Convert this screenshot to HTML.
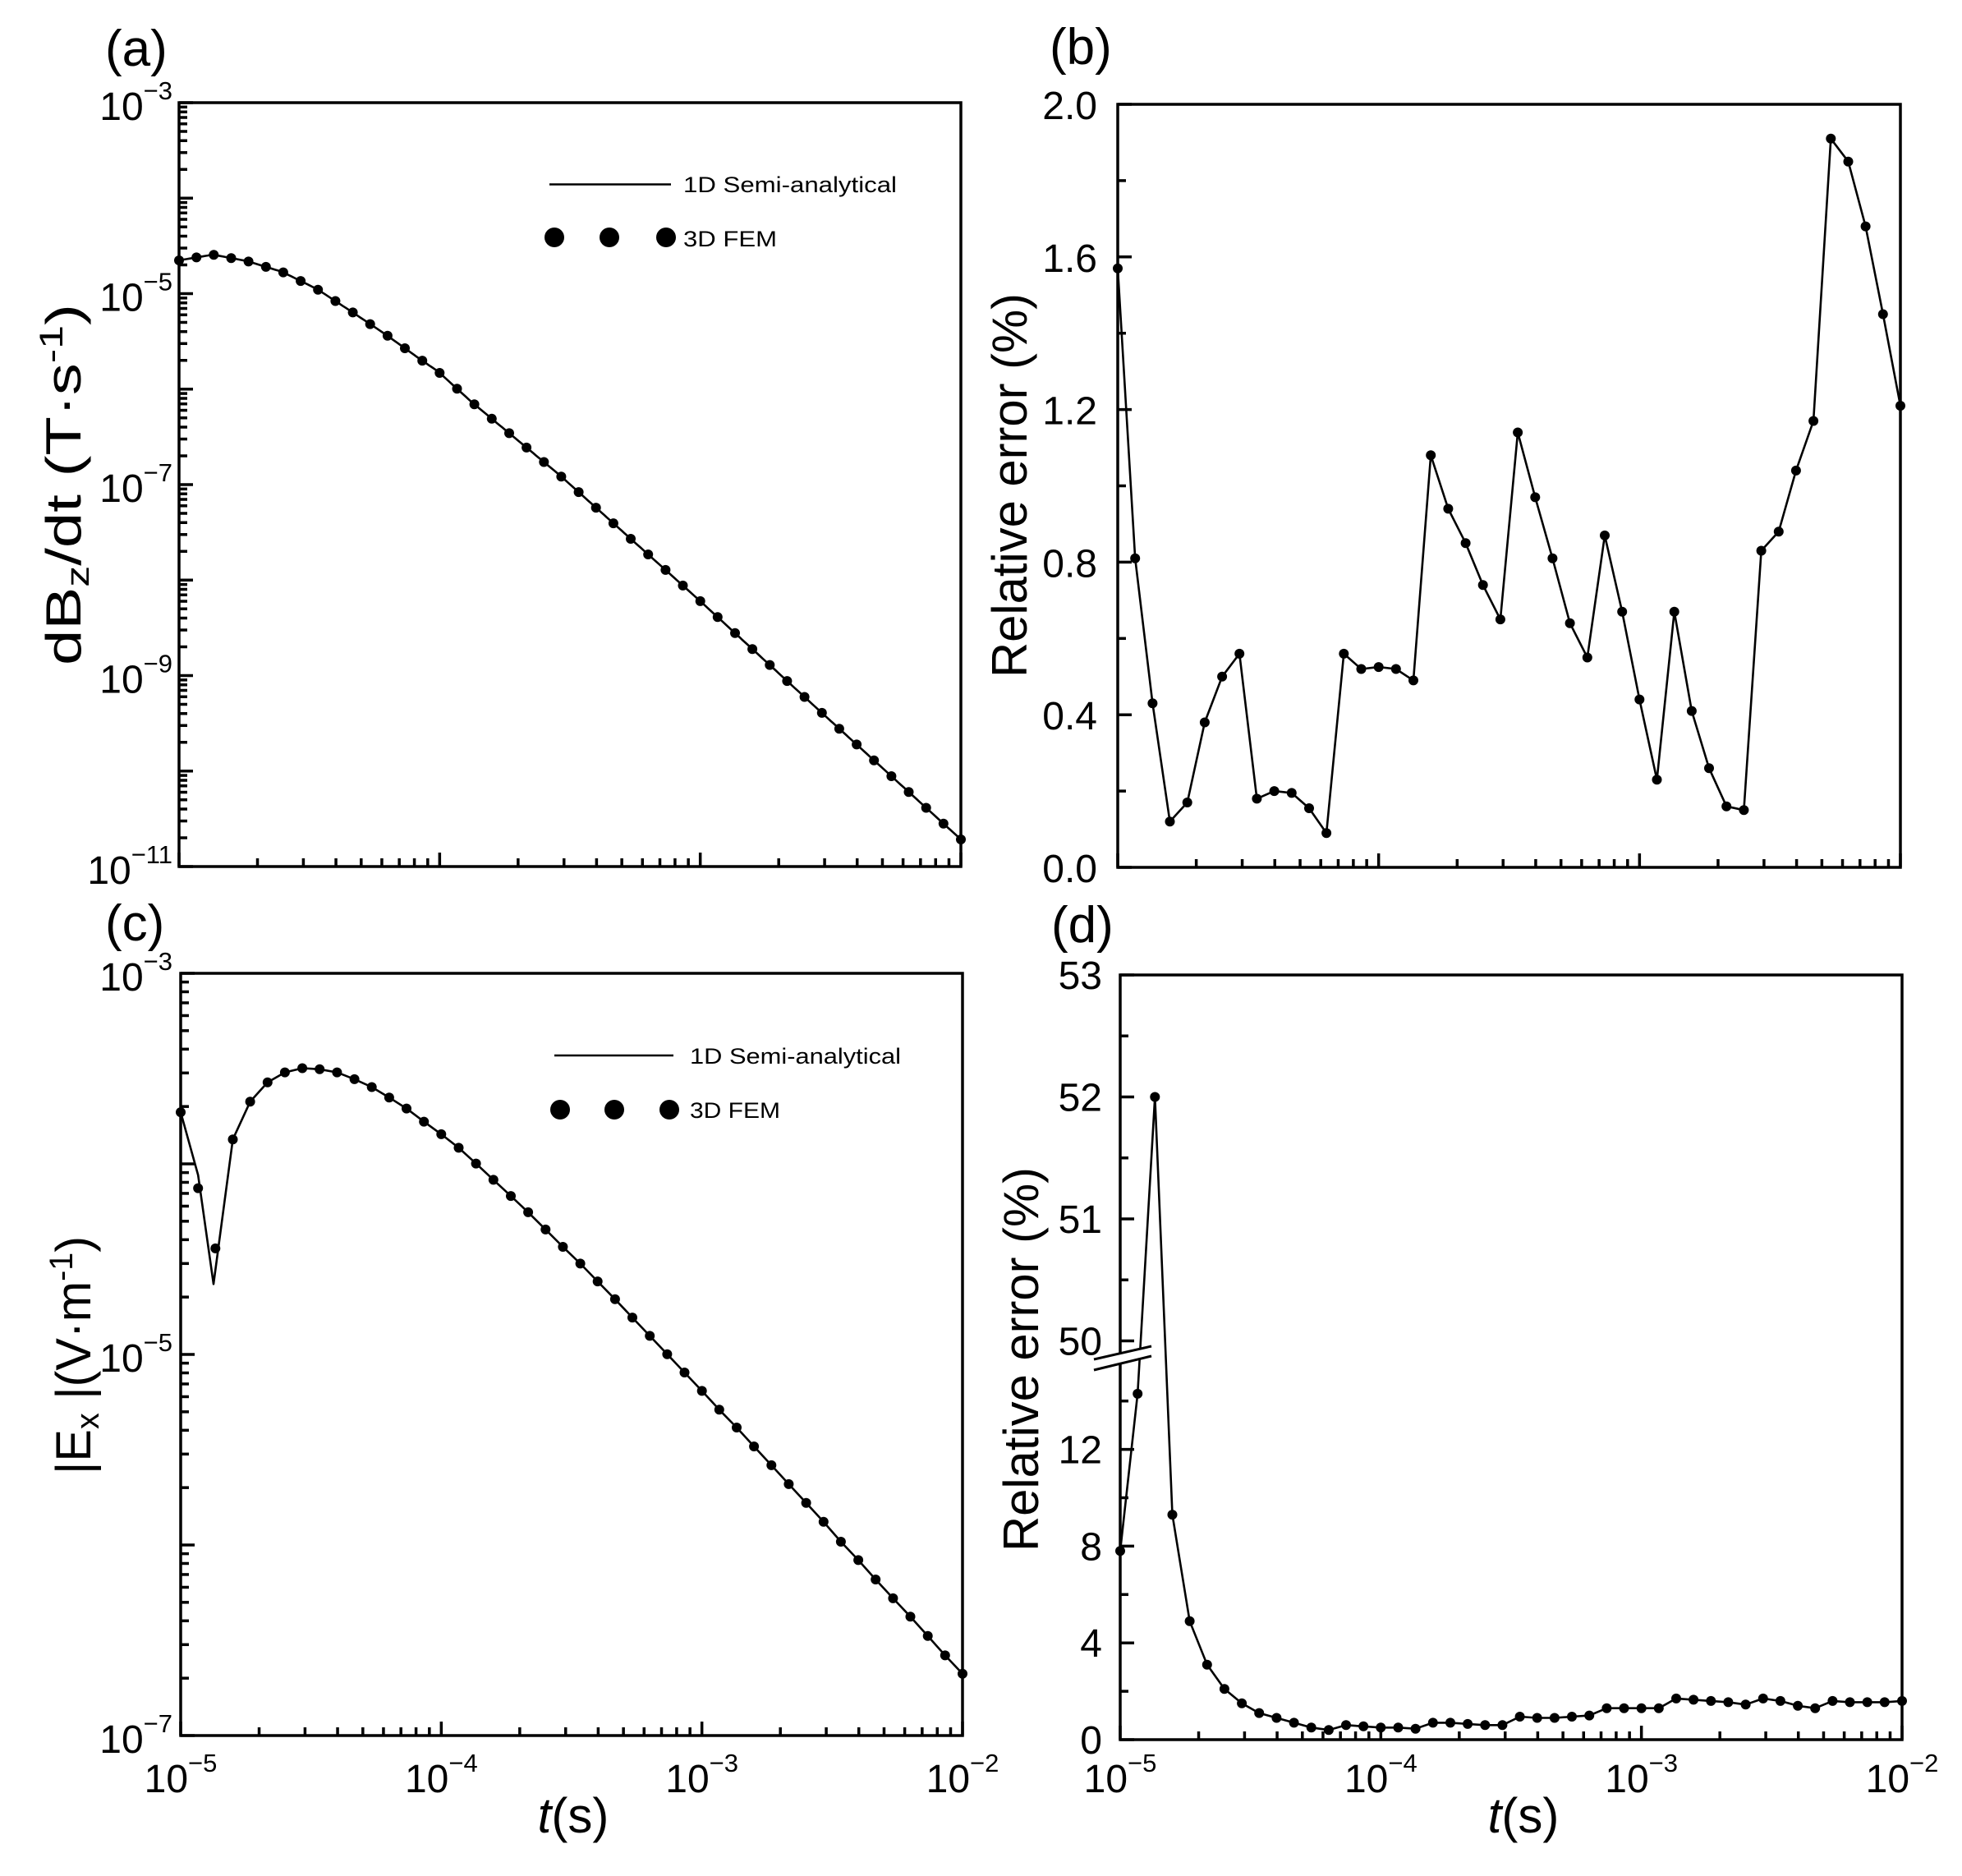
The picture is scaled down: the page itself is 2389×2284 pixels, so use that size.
<!DOCTYPE html>
<html><head><meta charset="utf-8"><style>html,body{margin:0;padding:0;background:#fff}svg{display:block}</style></head>
<body>
<svg id="s" xmlns="http://www.w3.org/2000/svg" width="2389" height="2284" viewBox="0 0 2389 2284" font-family="'Liberation Sans', Arial, sans-serif">
<rect width="2389" height="2284" fill="#fff"/>
<g id="g"></g>
</svg>
<script>
var S='';
function L(x1,y1,x2,y2,w){S+='<line x1="'+x1+'" y1="'+y1+'" x2="'+x2+'" y2="'+y2+'" stroke="#000" stroke-width="'+(w||3.5)+'"/>';}
function T(x,y,t,sz,anc,extra){S+='<text x="'+x+'" y="'+y+'" font-size="'+sz+'" text-anchor="'+(anc||'start')+'" '+(extra||'')+'>'+t+'</text>';}
function pw(x,y,e,anc){
  T(x,y,'10<tspan font-size="31" dy="-25">−'+e+'</tspan>',48,anc);
}
function poly(pts,w){S+='<polyline fill="none" stroke="#000" stroke-width="'+(w||2.6)+'" stroke-linejoin="round" points="'+pts.map(function(p){return p[0].toFixed(1)+','+p[1].toFixed(1)}).join(' ')+'"/>';}
function dots(pts){pts.forEach(function(p){S+='<circle cx="'+p[0].toFixed(1)+'" cy="'+p[1].toFixed(1)+'" r="6"/>';});}
function box(x0,y0,x1,y1){S+='<rect x="'+x0+'" y="'+y0+'" width="'+(x1-x0)+'" height="'+(y1-y0)+'" fill="none" stroke="#000" stroke-width="3.5"/>';}
function xlogticks(x0,x1,y1){var d=(x1-x0)/3;for(var k=0;k<3;k++){for(var m=1;m<=9;m++){var x=x0+d*(k+Math.log10(m));L(x,y1,x,y1-(m==1?17:10));}}L(x1,y1,x1,y1-17);}
function ylogticks(x0,y0,y1,n){var d=(y1-y0)/n;for(var k=0;k<n;k++){for(var m=1;m<=9;m++){var y=y1-d*(k+Math.log10(m));L(x0,y,x0+(m==1?17:10),y);}}L(x0,y0,x0+17,y0);}
function interp(nodes,u){for(var i=0;i<nodes.length-1;i++){if(u<=nodes[i+1][0]){var t=(u-nodes[i][0])/(nodes[i+1][0]-nodes[i][0]);return nodes[i][1]+t*(nodes[i+1][1]-nodes[i][1]);}}return nodes[nodes.length-1][1];}

// ===== Panel a =====
var ax0=218,ax1=1170,ay0=125,ay1=1055;
box(ax0,ay0,ax1,ay1);xlogticks(ax0,ax1,ay1);ylogticks(ax0,ay0,ay1,8);
var dy=(ay1-ay0)/8;
[3,5,7,9,11].forEach(function(e,i){pw(210,ay0+dy*2*i+21,e,'end');});
var na=[[-5,317],[-4.87,310],[-4.737,318],[-4.604,331],[-4.47,352],[-4.34,379],[-4.208,407],[-4.072,438],[-4.007,452],[-3.879,489],[-3.541,578],[-3.01,729],[-2.54,866],[-2,1022]];
var pa=[],la=[];
for(var u=-5;u<=-2.0001;u+=0.01){la.push([ax0+(u+5)*(ax1-ax0)/3,interp(na,u)]);}
la.push([ax1,interp(na,-2)]);
for(var i=0;i<46;i++){var u=-5+i/15;pa.push([ax0+i*(ax1-ax0)/45,interp(na,u)]);}
poly(la);dots(pa);
L(669,224.5,817,224.5,2.6);
T(832,234,'1D Semi-analytical',27,'start','textLength="260" lengthAdjust="spacingAndGlyphs"');
S+='<circle cx="675" cy="289" r="12"/><circle cx="742" cy="289" r="12"/><circle cx="811" cy="289" r="12"/>';
T(832,300,'3D FEM',27,'start','textLength="114" lengthAdjust="spacingAndGlyphs"');
T(128,80,'(a)',62);
S+='<text transform="translate(98,590) rotate(-90)" font-size="60" text-anchor="middle" textLength="440" lengthAdjust="spacingAndGlyphs">dB<tspan font-size="40" dy="10">z</tspan><tspan dy="-10">/dt (T·s</tspan><tspan font-size="40" dy="-22">-1</tspan><tspan dy="22">)</tspan></text>';

// ===== Panel b =====
var bx0=1361,bx1=2314,by0=127,by1=1056;
box(bx0,by0,bx1,by1);xlogticks(bx0,bx1,by1);
for(var k=0;k<=10;k++){var y=by1-k*(by1-by0)/10;L(bx0,y,bx0+(k%2==0?17:10),y);}
['0.0','0.4','0.8','1.2','1.6','2.0'].forEach(function(t,i){T(1336,by1-i*(by1-by0)/5+18,t,48,'end');});
var vb=[1.57,0.81,0.43,0.12,0.17,0.38,0.50,0.56,0.18,0.20,0.195,0.155,0.09,0.56,0.52,0.525,0.52,0.49,1.08,0.94,0.85,0.74,0.65,1.14,0.97,0.81,0.64,0.55,0.87,0.67,0.44,0.23,0.67,0.41,0.26,0.16,0.15,0.83,0.88,1.04,1.17,1.91,1.85,1.68,1.45,1.21];
var pb=vb.map(function(v,i){return [bx0+i*(bx1-bx0)/45,by1-v/2*(by1-by0)];});
poly(pb);dots(pb);
T(1278,78,'(b)',62);
S+='<text transform="translate(1250,591) rotate(-90)" font-size="60" text-anchor="middle" textLength="468" lengthAdjust="spacingAndGlyphs">Relative error (%)</text>';

// ===== Panel c =====
var cx0=220,cx1=1172,cy0=1185,cy1=2113;
box(cx0,cy0,cx1,cy1);xlogticks(cx0,cx1,cy1);ylogticks(cx0,cy0,cy1,4);
var cdy=(cy1-cy0)/4;
[3,5,7].forEach(function(e,i){pw(210,cy0+cdy*2*i+21,e,'end');});
[5,4,3,2].forEach(function(e,i){pw(cx0+i*(cx1-cx0)/3,2182,e,'middle');});
var zc=[320,465,580,372,300,263,244,236,238,244,257,272,292,313,338,362,388,418,449,480,511,544,577,609,643,677,712,747,782,817,852,888,922,958,994,1030,1066,1102,1140,1175,1212,1248,1283,1320,1357,1392];
var pc=zc.map(function(z,i){return [cx0+i*(cx1-cx0)/45,z/1.568+1150];});
var lc=[pc[0],[pc[1][0],1150+440/1.568],[cx0+(0.126)*(cx1-cx0)/3,1150+648/1.568],pc[3]];
for(var i=3;i<46;i++){lc.push(pc[i]);}
poly(lc);dots(pc);
L(675,1285,820,1285,2.6);
T(840,1295,'1D Semi-analytical',27,'start','textLength="257" lengthAdjust="spacingAndGlyphs"');
S+='<circle cx="682" cy="1351" r="12"/><circle cx="748" cy="1351" r="12"/><circle cx="815" cy="1351" r="12"/>';
T(840,1361,'3D FEM',27,'start','textLength="110" lengthAdjust="spacingAndGlyphs"');
T(128,1145,'(c)',62);
S+='<text transform="translate(110,1650) rotate(-90)" font-size="60" text-anchor="middle" textLength="290" lengthAdjust="spacingAndGlyphs">|E<tspan font-size="40" dy="10">x</tspan><tspan dy="-10"> |(V·m</tspan><tspan font-size="40" dy="-22">-1</tspan><tspan dy="22">)</tspan></text>';
S+='<text x="698" y="2231" font-size="60" text-anchor="middle"><tspan font-style="italic">t</tspan>(s)</text>';

// ===== Panel d =====
var dx0=1364,dx1=2316,dy0=1187,dy1=2118;
box(dx0,dy0,dx1,dy1);xlogticks(dx0,dx1,dy1);
function ydl(v){return v<=20?dy1-v*29.45:1632.5-(v-50)*148.5;}
[0,4,8,12].forEach(function(v){L(dx0,ydl(v),dx0+17,ydl(v));T(1342,ydl(v)+17,''+v,48,'end');});
[2,6,10,14].forEach(function(v){L(dx0,ydl(v),dx0+10,ydl(v));});
[50,51,52,53].forEach(function(v){L(dx0,ydl(v),dx0+17,ydl(v));T(1342,ydl(v)+17,''+v,48,'end');});
[50.5,51.5,52.5].forEach(function(v){L(dx0,ydl(v),dx0+10,ydl(v));});
[5,4,3,2].forEach(function(e,i){pw(dx0+i*(dx1-dx0)/3,2182,e,'middle');});
var vd=[7.8,14.3,52,9.3,4.9,3.1,2.1,1.5,1.1,0.9,0.7,0.5,0.4,0.6,0.55,0.5,0.5,0.45,0.7,0.7,0.65,0.6,0.6,0.95,0.9,0.9,0.95,1.0,1.3,1.3,1.3,1.3,1.7,1.65,1.6,1.55,1.45,1.7,1.6,1.4,1.3,1.6,1.55,1.55,1.55,1.6];
var pd=vd.map(function(v,i){return [dx0+i*(dx1-dx0)/45,ydl(v)];});
poly(pd);dots(pd);
S+='<polygon points="1332,1655 1402,1639 1402,1651 1332,1668" fill="#fff"/>';
L(1332,1655,1402,1639,3);L(1332,1668,1402,1651,3);
T(1280,1147,'(d)',62);
S+='<text transform="translate(1264,1655) rotate(-90)" font-size="60" text-anchor="middle" textLength="468" lengthAdjust="spacingAndGlyphs">Relative error (%)</text>';
S+='<text x="1855" y="2231" font-size="60" text-anchor="middle"><tspan font-style="italic">t</tspan>(s)</text>';

document.getElementById('g').innerHTML=S;
</script>
</body></html>
